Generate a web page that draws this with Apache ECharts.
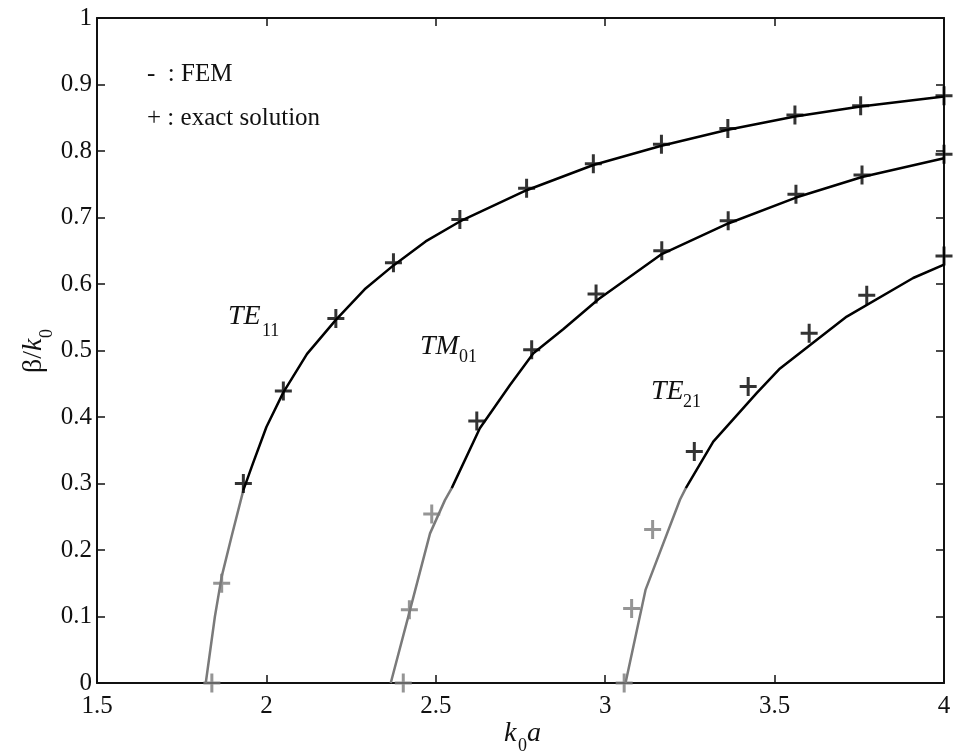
<!DOCTYPE html>
<html><head><meta charset="utf-8">
<script src="https://cdn.jsdelivr.net/npm/echarts@6/dist/echarts.min.js"></script>
<style>html,body{margin:0;padding:0;background:#fff}#c{width:955px;height:753px}</style>
</head><body><div id="c"></div>
<script>
// ---- data: [k0a, beta/k0] ----
const te11Fem = [[1.821,0],[1.848,0.10],[1.868,0.16],[1.897,0.22],[1.932,0.29],[1.960,0.33],[2.000,0.385],[2.050,0.437],[2.120,0.495],[2.205,0.546],[2.290,0.592],[2.375,0.628],[2.470,0.664],[2.571,0.694],[2.768,0.741],[2.965,0.779],[3.166,0.808],[3.362,0.832],[3.560,0.852],[3.754,0.867],[4.0,0.882]];
const tm01Fem = [[2.367,0],[2.424,0.11],[2.483,0.225],[2.527,0.275],[2.547,0.293],[2.630,0.383],[2.719,0.448],[2.788,0.496],[2.876,0.532],[2.980,0.577],[3.167,0.645],[3.363,0.691],[3.563,0.730],[3.758,0.761],[4.0,0.789]];
const te21Fem = [[3.060,0],[3.119,0.140],[3.221,0.276],[3.238,0.293],[3.319,0.363],[3.447,0.436],[3.516,0.473],[3.604,0.508],[3.713,0.551],[3.909,0.609],[4.0,0.629]];

const te11Exact = [[1.839,0],[1.868,0.150],[1.932,0.300],[2.050,0.439],[2.205,0.548],[2.375,0.632],[2.571,0.697],[2.768,0.744],[2.965,0.781],[3.166,0.810],[3.362,0.834],[3.560,0.854],[3.754,0.868],[4.0,0.883]];
const tm01Exact = [[2.404,0],[2.422,0.110],[2.488,0.254],[2.621,0.394],[2.783,0.501],[2.973,0.585],[3.167,0.650],[3.363,0.695],[3.563,0.735],[3.758,0.764],[4.0,0.795]];
const te21Exact = [[3.056,0],[3.078,0.112],[3.140,0.231],[3.263,0.348],[3.422,0.446],[3.602,0.526],[3.772,0.583],[4.0,0.642]];

const legendLines = ['-  : FEM', '+ : exact solution'];
const modeNames = [['TE','11'],['TM','01'],['TE','21']];

// ---- styling ----
const SERIF = '"Liberation Serif","DejaVu Serif",serif';
const INK = '#111';
const GRAY = '#7a7a7a';
const PLUS = 'path://M7,0 H10 V19 H7 Z M0,8 H17 V11 H0 Z';
const SPLIT_LO = 0.289, SPLIT_HI = 0.295;   // faded (grey) lower part of each curve

function txt(s, x, y, size, italic, extra) {
  return Object.assign({
    type: 'text', x: x, y: y, z: 10,
    style: { text: s, fill: INK, font: (italic ? 'italic ' : '') + size + 'px ' + SERIF,
             textAlign: 'left', textVerticalAlign: 'middle' }
  }, extra || {});
}

const lineS = (d, color) => ({ type: 'line', data: d, showSymbol: false, smooth: false,
  lineStyle: { width: 2.5, color: color, join: 'round' }, itemStyle: { color: color }, z: 2, animation: false });
const lowPart = (d) => d.filter(p => p[1] <= SPLIT_HI);
const highPart = (d) => d.filter(p => p[1] >= SPLIT_LO);
const scatS = (d) => ({ type: 'scatter', data: d, symbol: PLUS, symbolSize: [17, 19],
  itemStyle: { color: (p) => (p.value[1] < 0.28 ? GRAY : '#000') }, clip: false, z: 3, animation: false });

const axisCommon = {
  type: 'value',
  axisLine: { show: true, onZero: false, lineStyle: { color: '#111', width: 2 } },
  axisTick: { inside: true, length: 8, lineStyle: { color: '#111', width: 1.5 } },
  splitLine: { show: false }
};

const chart = echarts.init(document.getElementById('c'));
chart.setOption({
  backgroundColor: '#fff',
  animation: false,
  grid: { left: 97, right: 11, top: 18, bottom: 70 },
  xAxis: [
    Object.assign({}, axisCommon, { min: 1.5, max: 4, interval: 0.5, position: 'bottom',
      axisLabel: { color: INK, fontFamily: SERIF, fontSize: 25, margin: 11 } }),
    Object.assign({}, axisCommon, { min: 1.5, max: 4, interval: 0.5, position: 'top',
      axisLabel: { show: false } })
  ],
  yAxis: [
    Object.assign({}, axisCommon, { min: 0, max: 1, interval: 0.1, position: 'left',
      axisLabel: { color: INK, fontFamily: SERIF, fontSize: 25, margin: 5 } }),
    Object.assign({}, axisCommon, { min: 0, max: 1, interval: 0.1, position: 'right',
      axisLabel: { show: false } })
  ],
  series: [
    lineS(lowPart(te11Fem), GRAY), lineS(highPart(te11Fem), '#000'),
    lineS(lowPart(tm01Fem), GRAY), lineS(highPart(tm01Fem), '#000'),
    lineS(lowPart(te21Fem), GRAY), lineS(highPart(te21Fem), '#000'),
    scatS(te11Exact), scatS(tm01Exact), scatS(te21Exact)
  ],
  graphic: [
    txt(legendLines[0], 147, 74, 25, false),
    txt(legendLines[1], 147, 118, 25, false),
    txt(modeNames[0][0], 228, 317, 28, true), txt(modeNames[0][1], 262, 331, 18, false),
    txt(modeNames[1][0], 420, 347, 28, true), txt(modeNames[1][1], 459, 357, 18, false),
    txt(modeNames[2][0], 651, 392, 28, true), txt(modeNames[2][1], 683, 402, 18, false),
    txt('k', 504, 734, 28, true), txt('0', 518, 746, 18, false), txt('a', 527, 734, 28, true),
    { type: 'group', x: 43, y: 373, rotation: Math.PI / 2, children: [
      txt('β/', 0, -9, 28, false), txt('k', 22, -9, 28, true), txt('0', 35, 4, 18, false)
    ] }
  ]
});
</script></body></html>
